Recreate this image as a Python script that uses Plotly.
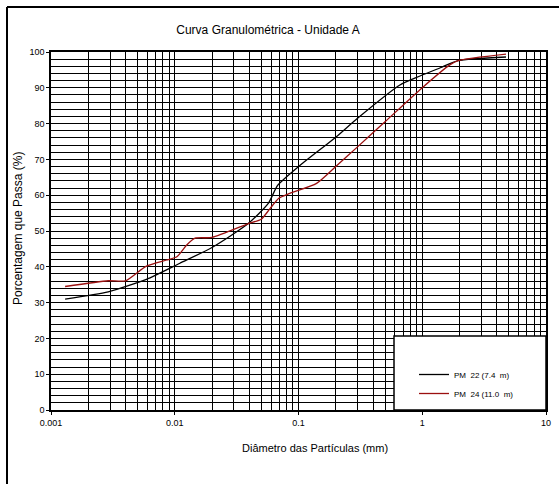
import plotly.graph_objects as go

# PM 22 (7.4 m)
d_pm22 = [0.0013, 0.0029, 0.0059, 0.011, 0.02, 0.039, 0.057, 0.068, 0.10, 0.20, 0.30, 0.66, 0.96, 1.4, 1.95, 4.75]
p_pm22 = [31.0, 33.0, 36.5, 41.0, 45.4, 52.0, 57.7, 62.8, 68.0, 76.2, 81.5, 90.8, 93.3, 95.6, 97.6, 98.6]

# PM 24 (11.0 m)
d_pm24 = [0.0013, 0.0029, 0.0040, 0.0059, 0.0086, 0.0104, 0.0125, 0.0146, 0.020, 0.039, 0.050,
          0.059, 0.069, 0.085, 0.14, 0.20, 0.30, 0.50, 0.99, 1.67, 1.95, 4.75]
p_pm24 = [34.5, 36.1, 36.1, 40.2, 41.9, 42.8, 46.1, 48.0, 48.2, 52.0, 53.3,
          56.3, 59.1, 60.5, 63.3, 68.0, 73.5, 80.5, 89.9, 96.4, 97.6, 99.4]

x_ticks = [0.001, 0.01, 0.1, 1, 10]
x_tick_labels = ["0.001", "0.01", "0.1", "1", "10"]
x_minor = [m * 10.0 ** e for e in range(-3, 1) for m in range(2, 10)]
y_ticks = list(range(0, 101, 10))

FONT = "Liberation Sans, Arial, sans-serif"

fig = go.Figure()
fig.add_trace(go.Scatter(x=d_pm22, y=p_pm22, mode="lines", name="PM  22 (7.4  m)",
                         line=dict(color="black", width=1.3, shape="spline", smoothing=0.6)))
fig.add_trace(go.Scatter(x=d_pm24, y=p_pm24, mode="lines", name="PM  24 (11.0  m)",
                         line=dict(color="#9b1010", width=1.3, shape="spline", smoothing=0.6)))

W, H = 559, 484
L, R, T, B = 51, 13, 52, 74
pw, ph = W - L - R, H - T - B

def px2x(px):
    return (px - L) / pw

def py2y(py):
    return (H - B - py) / ph

fig.update_layout(
    width=W, height=H,
    margin=dict(l=L, r=R, t=T, b=B, autoexpand=False),
    paper_bgcolor="white", plot_bgcolor="white",
    font=dict(family=FONT, color="black", size=9),
    title=dict(text="Curva Granulométrica - Unidade A", x=268 / W, xanchor="center",
               y=1 - 30 / H, yanchor="middle", font=dict(size=12, family=FONT)),
    showlegend=True,
    legend=dict(x=px2x(414), y=py2y(384), xanchor="left", yanchor="middle",
                bgcolor="rgba(0,0,0,0)", borderwidth=0, font=dict(size=8, family=FONT),
                tracegroupgap=9, itemwidth=30),
    xaxis=dict(type="log", range=[-3, 1], tickvals=x_ticks, ticktext=x_tick_labels,
               showgrid=True, gridcolor="black", gridwidth=1,
               minor=dict(tickvals=x_minor, showgrid=True, gridcolor="black", gridwidth=1, ticks=""),
               ticks="outside", ticklen=3, tickcolor="black", showline=True, linecolor="black",
               linewidth=1.5, mirror=True, zeroline=False, tickfont=dict(size=9)),
    yaxis=dict(range=[0, 100], tickvals=y_ticks, showgrid=True, gridcolor="black", gridwidth=1,
               minor=dict(dtick=2, showgrid=True, gridcolor="black", gridwidth=1, ticks=""),
               ticks="outside", ticklen=3, tickcolor="black", showline=True, linecolor="black",
               linewidth=1.5, mirror=True, zeroline=False, tickfont=dict(size=9)),
)

# legend box (white, black border) in lower-right of plot area
fig.add_shape(type="rect", xref="paper", yref="paper",
              x0=px2x(394), x1=1.0, y0=0.0, y1=py2y(336),
              fillcolor="white", line=dict(color="black", width=1.5), layer="above")

# outer chart frame (left and top edges visible)
fig.add_shape(type="line", xref="paper", yref="paper",
              x0=px2x(7), x1=px2x(7), y0=py2y(490), y1=py2y(7),
              line=dict(color="black", width=2))
fig.add_shape(type="line", xref="paper", yref="paper",
              x0=px2x(7), x1=px2x(565), y0=py2y(7), y1=py2y(7),
              line=dict(color="black", width=2))

# axis titles
fig.add_annotation(text="Diâmetro das Partículas (mm)", xref="paper", yref="paper",
                   x=px2x(315), y=py2y(448), showarrow=False, xanchor="center", yanchor="middle",
                   font=dict(size=11, family=FONT))
fig.add_annotation(text="Porcentagem que Passa (%)", xref="paper", yref="paper",
                   x=px2x(18), y=py2y(229), showarrow=False, textangle=-90,
                   xanchor="center", yanchor="middle", font=dict(size=12, family=FONT))

fig.write_html("out.html", config={"displayModeBar": False},
               post_script="document.body.style.margin='0px';document.body.style.overflow='hidden';")
